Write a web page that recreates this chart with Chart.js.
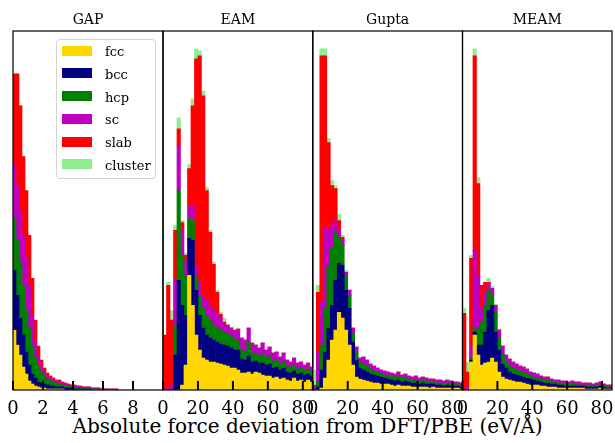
<!DOCTYPE html>
<html>
<head>
<meta charset="utf-8">
<script src="https://cdn.jsdelivr.net/npm/chart.js@4.4.1/dist/chart.umd.min.js"></script>
<style>
  html, body { margin: 0; padding: 0; background: #fff; }
  #fig { position: relative; width: 615px; height: 443px; overflow: hidden; font-family: 'DejaVu Serif', serif; color: #000; }
  #fig canvas { position: absolute; top: 0; }
  #legend { position: absolute; left: 56px; top: 39px; width: 100px; height: 140px; box-sizing: border-box;
            border: 1px solid #d4d4d4; border-radius: 4px; background: rgba(255,255,255,0.8); }
  .row { position: absolute; left: 5px; height: 10px; }
  .patch { position: absolute; left: 0; top: 0; width: 30px; height: 10px; }
  .lbl { position: absolute; left: 43px; top: -3.5px; font-size: 13px; line-height: 20px; white-space: nowrap; }
  #xlabel { position: absolute; left: 0; width: 615px; top: 416px; text-align: center; font-size: 20px; line-height: 20px; white-space: nowrap; }
</style>
</head>
<body>
<div id="fig">
  <div id="xlabel">Absolute force deviation from DFT/PBE (eV/Å)</div>
</div>
<script>
// --- series + panels ---
const seriesNames  = ['fcc', 'bcc', 'hcp', 'sc', 'slab', 'cluster'];
const seriesColors = ['#FFD700', '#000080', '#008000', '#BF00BF', '#FF0000', '#90EE90'];
const panelTitles  = ['GAP', 'EAM', 'Gupta', 'MEAM'];

// histogram bins (GAP: 0.2 wide from 0, the others: 2 wide from 0)
const gapBinWidth = 0.2;
const potBinWidth = 2;
const gapTicks = [0, 2, 4, 6, 8];
const potTicks = [0, 20, 40, 60, 80];
const gapXMax = 10;
const potXMax = 85.7;
const yTop = 360; // each panel scaled to its own peak

// GAP counts (relative)
const gapFcc     = [60,45,35,23,16,9,6,4,3,2,2,1,1,1,1,1,1,0,0,0,0,0,0,0,0,0,0,0,0,0,0,0,0,0,0];
const gapBcc     = [60,50,37,32,22,16,10,8,5,5,4,4,3,3,2,2,2,2,2,2,1,1,1,1,1,1,0,0,0,0,0,0,0,0,0];
const gapHcp     = [52,55,56,50,42,37,29,21,16,11,8,6,5,4,4,3,2,2,2,1,2,1,1,1,1,0,1,1,1,1,1,0,0,0,0];
const gapSc      = [55,55,52,50,52,43,30,15,9,6,4,3,3,2,2,3,2,2,1,2,1,2,1,1,1,2,1,1,1,0,0,1,1,1,1];
const gapSlab    = [90,112,105,79,68,50,37,22,11,6,4,3,2,2,1,1,1,1,1,0,1,0,1,0,0,0,0,0,0,0,0,0,0,0,0];
const gapCluster = [0,0,0,0,0,0,0,0,0,0,0,0,0,0,0,0,0,0,0,0,0,0,0,0,0,0,0,0,0,0,0,0,0,0,0];

// EAM counts (relative)
const eamFcc     = [0,0,0,0,0,5,25,115,85,55,40,32,30,28,28,27,26,25,24,22,22,20,17,17,18,16,18,17,15,14,14,12,13,11,12,10,9,12,9,10,8,10,8];
const eamBcc     = [0,0,0,35,110,80,50,37,65,45,35,30,25,24,22,21,20,20,20,20,18,20,14,13,16,12,11,10,12,11,12,10,10,9,10,8,8,7,7,7,7,6,6];
const eamHcp     = [0,0,0,30,90,50,40,20,20,15,20,20,20,18,15,14,14,13,12,12,10,10,9,9,14,9,8,7,9,7,8,7,7,6,7,6,5,6,5,5,5,5,4];
const eamSc      = [0,2,5,45,45,25,15,13,15,10,13,13,15,15,15,14,12,8,8,8,9,10,12,11,14,10,8,8,11,8,9,8,8,7,8,6,6,7,6,6,5,6,5];
const eamSlab    = [55,103,65,50,17,8,5,37,100,207,227,200,110,73,46,22,4,2,1,0,1,1,0,0,0,0,0,0,0,0,0,0,0,0,0,0,0,0,0,0,0,0,0];
const eamCluster = [0,3,10,5,11,2,2,4,7,10,5,5,3,2,2,2,2,4,1,1,0,1,0,0,0,0,0,0,0,0,0,0,0,0,0,0,0,0,0,0,0,0,0];

// Gupta counts (relative)
const guptaFcc     = [0,0,2,12,30,50,60,78,72,60,45,25,13,11,10,9,8,7,7,6,6,6,5,4,5,4,4,4,3,3,3,3,3,2,3,2,2,2,2,2,2,2,1];
const guptaBcc     = [0,3,18,26,32,35,50,49,53,40,37,23,17,11,10,9,8,8,7,7,6,5,5,5,5,4,5,4,4,4,3,4,3,4,3,3,3,2,3,2,2,2,2];
const guptaHcp     = [0,5,25,44,63,57,48,26,20,15,13,8,8,6,6,6,5,4,4,3,3,3,4,4,4,4,4,3,3,3,3,3,3,2,2,2,2,2,2,2,2,1,2];
const guptaSc      = [3,30,43,81,35,23,12,7,5,3,5,6,5,4,7,6,5,5,4,4,4,4,3,3,4,3,3,3,3,4,3,3,3,3,3,3,3,3,3,3,2,3,2];
const guptaSlab    = [2,60,247,172,88,40,32,10,3,0,0,0,0,0,0,0,0,0,0,0,0,0,0,0,0,0,0,0,0,0,0,0,0,0,0,0,0,0,0,0,0,0,0];
const guptaCluster = [15,7,7,7,4,5,3,6,2,2,1,0,0,0,0,0,0,0,0,0,0,0,0,0,0,0,0,0,0,0,0,0,0,0,0,0,0,0,0,0,0,0,0];

// MEAM counts (relative)
const meamFcc     = [0,0,28,55,35,25,27,28,32,28,18,13,11,10,9,8,8,7,6,5,5,5,4,4,3,3,3,2,2,2,2,2,2,2,2,1,1,1,1,2,1,1,1];
const meamBcc     = [0,0,2,3,10,20,31,52,53,30,22,13,11,8,7,7,6,6,6,6,5,4,4,3,4,3,3,3,3,2,2,2,2,2,2,2,2,2,2,2,2,1,1];
const meamHcp     = [0,0,2,4,15,23,27,20,10,20,12,10,7,7,6,5,5,5,4,3,3,3,3,3,3,2,2,2,2,2,2,2,2,1,1,2,2,1,2,1,1,2,1];
const meamSc      = [0,3,13,78,55,14,13,6,7,7,8,8,6,6,6,6,5,5,5,4,4,4,3,3,3,3,2,3,2,3,2,3,2,3,2,2,2,2,2,3,2,1,2];
const meamSlab    = [77,15,87,195,92,23,10,2,0,0,0,0,0,0,0,0,0,0,0,0,0,0,0,0,0,0,0,0,0,0,0,0,0,0,0,0,0,0,0,0,0,0,0];
const meamCluster = [5,10,3,7,6,0,0,4,2,1,1,0,0,0,0,0,0,0,0,0,0,0,0,0,0,0,0,0,0,0,0,0,0,0,0,0,0,0,0,0,0,0,0];

// --- layout (pixels) ---
const panelEdges = [13, 163, 312.8, 462.5, 612];
const sideRoom = 20;
const plotTop = 31, plotBottom = 390, figH = 443;

Chart.defaults.font.family = "'DejaVu Serif', serif";
Chart.defaults.color = '#000';

// frame + inward ticks, drawn on top of the bars
const frameAndTicks = {
    id: 'frameAndTicks',
    afterDraw(chart) {
        const { ctx, chartArea: a } = chart;
        const xs = chart.scales.x;
        ctx.save();
        ctx.strokeStyle = '#000';
        ctx.lineWidth = 2;
        xs.ticks.forEach(t => {
            const px = xs.getPixelForValue(t.value);
            ctx.beginPath();
            ctx.moveTo(px, a.bottom);
            ctx.lineTo(px, a.bottom - 9);
            ctx.stroke();
        });
        ctx.lineWidth = 1.2;
        ctx.strokeRect(a.left, a.top, a.right - a.left, a.bottom - a.top);
        ctx.restore();
    }
};

function makePanel(i, series, binWidth, xMax, ticks) {
    const fig = document.getElementById('fig');
    const canvas = document.createElement('canvas');
    const cLeft = Math.floor(panelEdges[i]) - sideRoom;
    const padL = panelEdges[i] - cLeft;
    const cWidth = Math.ceil(panelEdges[i + 1] - cLeft + sideRoom);
    const padR = cWidth - (panelEdges[i + 1] - cLeft);
    canvas.width = cWidth;
    canvas.height = figH;
    canvas.style.left = cLeft + 'px';
    canvas.style.width = cWidth + 'px';
    canvas.style.height = figH + 'px';
    fig.appendChild(canvas);

    const datasets = series.map((vals, s) => ({
        label: seriesNames[s],
        data: vals.map((v, k) => ({ x: binWidth * k + binWidth / 2, y: v })),
        backgroundColor: seriesColors[s],
        borderWidth: 0,
        barPercentage: 1,
        categoryPercentage: 1
    }));

    return new Chart(canvas.getContext('2d'), {
        type: 'bar',
        data: { datasets },
        options: {
            responsive: false,
            animation: false,
            devicePixelRatio: 1,
            layout: { padding: { left: padL, right: padR, top: 0, bottom: 0 } },
            plugins: {
                legend: { display: false },
                tooltip: { enabled: false },
                title: {
                    display: true,
                    text: panelTitles[i],
                    color: '#000',
                    font: { size: 14, weight: 'normal' },
                    padding: { top: 12, bottom: 2.2 }
                }
            },
            scales: {
                x: {
                    type: 'linear',
                    stacked: true,
                    min: 0,
                    max: xMax,
                    offset: false,
                    grid: { display: false, drawTicks: false },
                    border: { display: false },
                    afterBuildTicks: sc => { sc.ticks = ticks.map(v => ({ value: v })); },
                    afterFit: sc => { sc.height = figH - plotBottom; },
                    ticks: {
                        color: '#000',
                        font: { size: 18 },
                        padding: 9,
                        maxRotation: 0,
                        autoSkip: false,
                        callback: v => String(v)
                    }
                },
                y: { stacked: true, display: false, min: 0, max: yTop }
            }
        },
        plugins: [frameAndTicks]
    });
}

makePanel(0, [gapFcc, gapBcc, gapHcp, gapSc, gapSlab, gapCluster], gapBinWidth, gapXMax, gapTicks);
makePanel(1, [eamFcc, eamBcc, eamHcp, eamSc, eamSlab, eamCluster], potBinWidth, potXMax, potTicks);
makePanel(2, [guptaFcc, guptaBcc, guptaHcp, guptaSc, guptaSlab, guptaCluster], potBinWidth, potXMax, potTicks);
makePanel(3, [meamFcc, meamBcc, meamHcp, meamSc, meamSlab, meamCluster], potBinWidth, potXMax, potTicks);

// legend in the GAP panel
const legend = document.createElement('div');
legend.id = 'legend';
seriesNames.forEach((name, s) => {
    const row = document.createElement('div');
    row.className = 'row';
    row.style.top = (5.7 + 22.7 * s) + 'px';
    row.innerHTML = '<div class="patch" style="background:' + seriesColors[s] + '"></div><div class="lbl">' + name + '</div>';
    legend.appendChild(row);
});
document.getElementById('fig').appendChild(legend);
</script>
</body>
</html>
